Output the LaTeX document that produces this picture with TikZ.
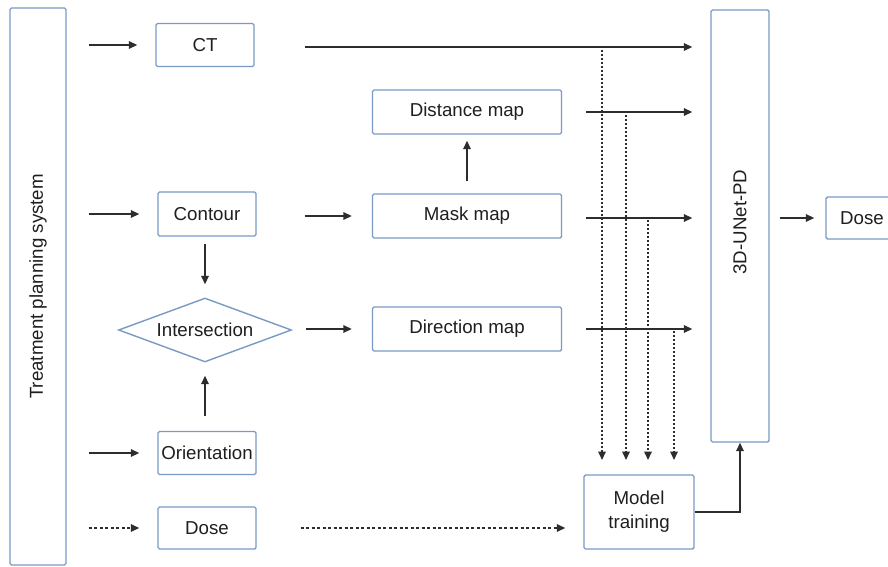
\documentclass[tikz,border=0pt]{standalone}
\usepackage{fontspec}
\setmainfont{Liberation Sans}
\usetikzlibrary{shapes.geometric,arrows.meta}
\definecolor{boxblue}{RGB}{122,154,196}
\definecolor{linegray}{RGB}{45,45,45}
\begin{document}
\begin{tikzpicture}[x=1pt,y=-1pt,
  lbl/.style={font=\fontsize{18.7}{24}\selectfont, text=black!88},
  box/.style={lbl, draw=boxblue, line width=1.4pt, rectangle, rounded corners=1.5pt, inner sep=0pt, align=center},
  arr/.style={draw=linegray, line width=1.6pt, -{Triangle[length=8.5pt,width=7.5pt]}},
  dotarr/.style={arr, dash pattern=on 2pt off 2pt},
  dasharr/.style={arr, dash pattern=on 3pt off 2.5pt},
  plain/.style={draw=linegray, line width=1.6pt}]
\useasboundingbox (0,0) rectangle (888,567);
\clip (0,0) rectangle (888,567);
\fill[white] (0,0) rectangle (888,567);

% boxes
\node[box, minimum width=56, minimum height=557] (tps) at (38,286.5) {};
\node[lbl, rotate=90] (tpsl) at (tps.center) {Treatment planning system};

\node[box, minimum width=98, minimum height=43] (ct) at (205,45) {CT};
\node[box, minimum width=98, minimum height=44] (contour) at (207,214) {Contour};
\node[lbl, draw=boxblue, line width=1.4pt, shape=diamond, inner sep=0pt, aspect=2.7,
      minimum width=173, minimum height=64] (inter) at (205,330) {Intersection};
\node[box, minimum width=98, minimum height=43] (orient) at (207,453) {Orientation};
\node[box, minimum width=98, minimum height=42] (dose) at (207,528) {Dose};

\node[box, minimum width=189, minimum height=44] (dist) at (467,112) {Distance map};
\node[box, minimum width=189, minimum height=44] (mask) at (467,216) {Mask map};
\node[box, minimum width=189, minimum height=44] (dir) at (467,329) {Direction map};

\node[box, minimum width=58, minimum height=432] (unet) at (740,226) {};
\node[lbl, rotate=90] (unetl) at (740,222) {3D-UNet-PD};

\node[box, minimum width=110, minimum height=74] (model) at (639,512) {Model\\training};
\node[box, minimum width=72, minimum height=42] (doseout) at (862,218) {Dose};

% inputs from TPS
\draw[arr] ([xshift=22pt]tps.east |- ct) -- ([xshift=-18pt]ct.west);
\draw[arr] ([xshift=22pt]tps.east |- contour) -- ([xshift=-18pt]contour.west);
\draw[arr] ([xshift=22pt]tps.east |- orient) -- ([xshift=-18pt]orient.west);
\draw[dasharr] ([xshift=22pt]tps.east |- dose) -- ([xshift=-18pt]dose.west);

% CT to network
\coordinate (ctline) at (0,47);
\draw[arr] ([xshift=50pt]ct.east |- ctline) -- ([xshift=-18pt]unet.west |- ctline);

% contour chain
\draw[arr] ([xshift=48pt]contour.east |- mask) -- ([xshift=-20pt]mask.west);
\draw[arr] ([yshift=12pt]mask.north) -- ([yshift=-6pt]dist.south);
\draw[arr] ([yshift=-7pt]inter.north |- contour.south) -- ([yshift=13pt]inter.north);
\draw[arr] ([yshift=15pt]inter.south |- orient.north) -- ([yshift=-13pt]inter.south);
\draw[arr] ([xshift=14pt]inter.east |- dir) -- ([xshift=-20pt]dir.west);

% maps to network
\coordinate (maskline) at (0,218);
\draw[arr] ([xshift=24pt]dist.east) -- ([xshift=-18pt]unet.west |- dist);
\draw[arr] ([xshift=24pt]mask.east |- maskline) -- ([xshift=-18pt]unet.west |- maskline);
\draw[arr] ([xshift=24pt]dir.east) -- ([xshift=-18pt]unet.west |- dir);

% dotted lines down to model training
\coordinate (v1) at (602,50);
\coordinate (v2) at (626,115);
\coordinate (v3) at (648,220);
\coordinate (v4) at (674,331);
\coordinate (vend) at (0,460);
\draw[dotarr] (v1) -- (v1 |- vend);
\draw[dotarr] (v2) -- (v2 |- vend);
\draw[dotarr] (v3) -- (v3 |- vend);
\draw[dotarr] (v4) -- (v4 |- vend);

% dose to model training
\draw[dasharr] ([xshift=44pt]dose.east) -- ([xshift=-18pt]model.west |- dose);

% model to network
\draw[arr] (model.east) -| (unet.south);

% network output
\draw[arr] ([xshift=10pt]unet.east |- doseout) -- ([xshift=-11pt]doseout.west);
\end{tikzpicture}
\end{document}
